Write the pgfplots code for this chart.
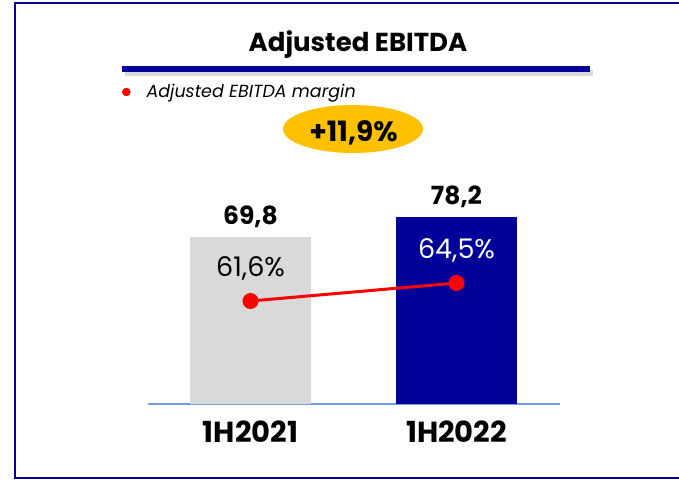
\documentclass[border=0pt]{standalone}
\usepackage{fontspec}
\setmainfont{Poppins}
\usepackage{pgfplots}
\pgfplotsset{compat=1.18}
\usetikzlibrary{shadows,shapes.geometric}

\definecolor{navy}{RGB}{0,0,153}
\definecolor{bargray}{RGB}{217,217,217}
\definecolor{baseblue}{RGB}{111,159,216}
\definecolor{pillyellow}{RGB}{255,192,0}

\pgfplotsset{
  panel/.style={
    at={(147.5pt,77pt)}, anchor=south west,
    scale only axis, width=412pt, height=239.5pt,
    xmin=-0.5, xmax=1.5,
    /pgf/number format/assume math mode=true,
    /pgf/number format/use comma,
    /pgf/number format/fixed,
    /pgf/number format/fixed zerofill,
    /pgf/number format/precision=1,
  },
}

\begin{document}
\begin{tikzpicture}[x=1pt,y=1pt]
\useasboundingbox (0,0) rectangle (679,481);
\clip (0,0) rectangle (679,481);
\draw[navy, line width=2.5pt] (15,3) rectangle (720,478);

% title and rule under it
\node[anchor=base, font=\bfseries\fontsize{26}{30}\selectfont] at (358,429) {Adjusted EBITDA};
\fill[navy, drop shadow={shadow xshift=3pt, shadow yshift=-4pt, opacity=0.3}]
  (122,409) rectangle (590,415);

% growth badge
\node[ellipse, fill=pillyellow, minimum width=140pt, minimum height=48pt, inner sep=0pt] at (353,352) {};
\node[anchor=base, font=\bfseries\fontsize{28}{32}\selectfont] at (353.5,339) {+11,9\%};

% EBITDA bars
\begin{axis}[panel,
    ymin=0, ymax=100,
    axis x line=bottom, axis y line=none,
    x axis line style={baseblue, line width=1.5pt, -},
    xtick={0,1}, xticklabels={1H2021,1H2022},
    major tick length=0pt,
    xticklabel style={anchor=base, yshift=-39pt, font=\bfseries\fontsize{29}{32}\selectfont},
    ybar, bar width=0.59, bar shift=0pt,
    nodes near coords, point meta=y,
    every node near coord/.append style={anchor=base, yshift=12pt,
      font=\bfseries\fontsize{25}{30}\selectfont, text=black},
]
\addplot[fill=bargray, draw=none] coordinates {(0,69.8)};
\addplot[fill=navy, draw=none] coordinates {(1,78.2)};
\end{axis}

% margin line
\begin{axis}[panel,
    ymin=45.01, ymax=83.59,
    hide axis,
    legend style={at={(axis description cs:-0.062,1.3027)}, anchor=west,
      draw=none, fill=none, inner sep=0pt,
      /tikz/every odd column/.style={column sep=14pt},
      font=\itshape\fontsize{17.5}{20}\selectfont},
    legend cell align=left,
]
\addplot[red, line width=3pt, mark=*, mark size=6.5pt, forget plot]
  coordinates {(0,61.6) (1,64.5)};
\addplot[draw=none, forget plot, point meta=y,
    nodes near coords={\pgfmathprintnumber{\pgfplotspointmeta}\%},
    every node near coord/.append style={anchor=base, yshift=24.5pt,
      font=\fontsize{27}{32}\selectfont, text=black}]
  coordinates {(0,61.6)};
\addplot[draw=none, forget plot, point meta=y,
    nodes near coords={\pgfmathprintnumber{\pgfplotspointmeta}\%},
    every node near coord/.append style={anchor=base, yshift=24.5pt,
      font=\fontsize{27}{32}\selectfont, text=white}]
  coordinates {(1,64.5)};
\addlegendimage{legend image code/.code={\fill[red] (4pt,0pt) circle (4pt);}}
\addlegendentry{Adjusted EBITDA margin}
\end{axis}
\end{tikzpicture}
\end{document}
